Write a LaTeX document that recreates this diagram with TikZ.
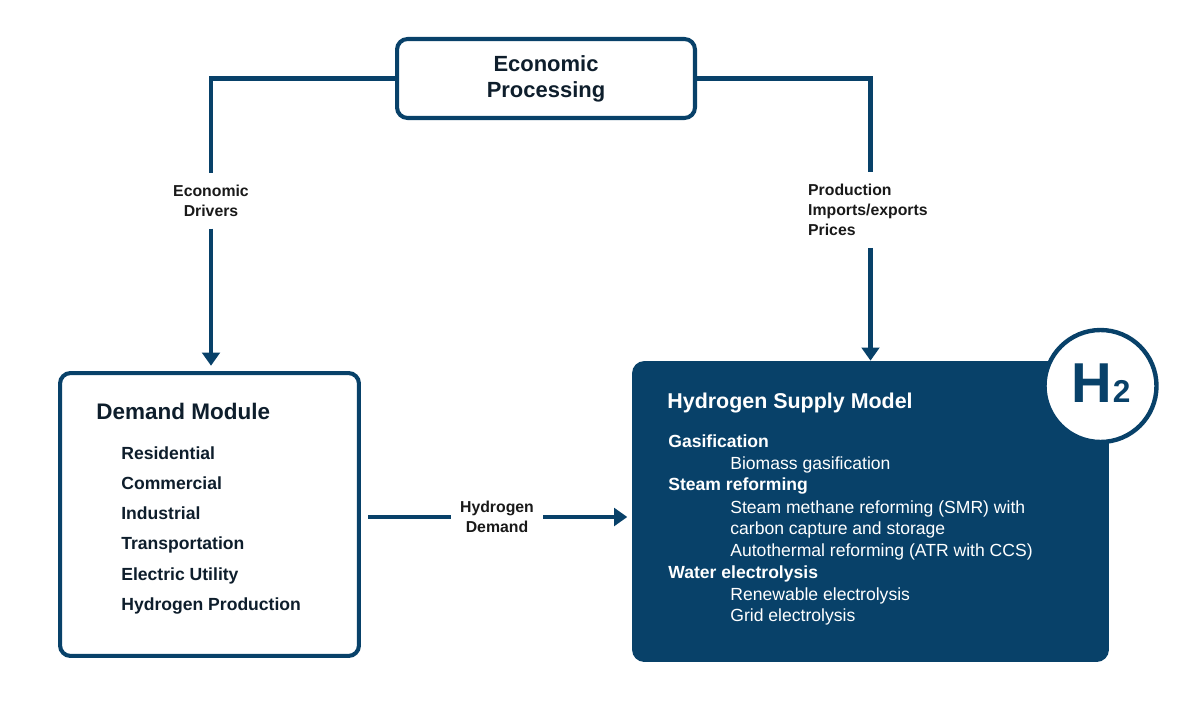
\documentclass[tikz,border=0pt]{standalone}
\usepackage{fontspec}
\setmainfont{Liberation Sans}
\usetikzlibrary{arrows.meta}
\usetikzlibrary{positioning}
\definecolor{hblue}{RGB}{8,65,105}
\definecolor{hdark}{RGB}{14,30,44}
\tikzset{
	>={Triangle[width=10pt,length=7.5pt]},
	modbox/.style={
		rectangle,
		rounded corners=6pt,
		draw=hblue, line width=2.3pt,
		fill=white,
		text=hdark},
	line/.style={draw=hblue, line width=2.6pt},
	flowlabel/.style={
		font=\fontsize{9}{11.5}\selectfont\bfseries,
		text=black!90,
		align=center,
		inner xsep=5pt, inner ysep=6.5pt},
	demitem/.style={anchor=base west, inner sep=0pt, text=hdark,
		font=\fontsize{10}{12}\selectfont\bfseries},
	supitem/.style={anchor=base west, inner sep=0pt, text=white,
		font=\fontsize{10}{12}\selectfont},
}

\begin{document}
\begin{tikzpicture}[x=0.02cm, y=-0.02cm]
	\useasboundingbox (0,0) rectangle (1200,716);
	% boxes
	\node[modbox, minimum width=5.96cm, minimum height=1.58cm, align=center,
		font=\fontsize{12.5}{14.7}\selectfont\bfseries] (econ) at (546,78.5) {Economic\\Processing};
	\node[modbox, minimum width=5.98cm, minimum height=5.66cm] (dem) at (209.5,514.5) {};
	\node[fill=hblue, rounded corners=7pt, minimum width=9.54cm, minimum height=6.02cm, inner sep=0pt] (sup) at (870.5,511.5) {};
	\node[circle, draw=hblue, line width=2.5pt, fill=white, minimum size=2.24cm, inner sep=0pt] (htwo) at (1100.5,386) {};
	\node[text=hblue, inner sep=0pt] (htext) at (1101,383)
		{\fontsize{32}{32}\selectfont\bfseries H\kern0.3pt\fontsize{18}{18}\selectfont 2};
	% demand module
	\node[demitem, font=\fontsize{12.8}{15}\selectfont\bfseries] (demtitle) at (96,419) {Demand Module};
	\foreach \t [count=\i] in {Residential, Commercial, Industrial, Transportation, Electric Utility, Hydrogen Production}
		\node[demitem] (dem\i) at (121,429+30.2*\i) {\t};
	% supply model
	\node[supitem, font=\fontsize{12.2}{14}\selectfont\bfseries] (suptitle) at (667,408) {Hydrogen Supply Model};
	\foreach \y/\dx/\f/\t [count=\i] in {441/0/\bfseries/Gasification, 463/62//Biomass gasification,
		484/0/\bfseries/Steam reforming, 507/62//Steam methane reforming (SMR) with,
		528/62//carbon capture and storage, 550/62//Autothermal reforming (ATR with CCS),
		572/0/\bfseries/Water electrolysis, 594/62//Renewable electrolysis, 615/62//Grid electrolysis}
		\node[supitem] (sup\i) at (668+\dx,\y+6) {\f\t};
	% flow labels
	\node[flowlabel] (drv) at (211,201) {Economic\\Drivers};
	\node[flowlabel, align=left, anchor=west] (prod) at (799,210) {Production\\Imports/exports\\Prices};
	\node[flowlabel] (hd) at (497,517) {Hydrogen\\Demand};
	% connectors
	\draw[line] (econ.west) -| (drv);
	\draw[line, ->, shorten >=3pt] (drv) -- (drv |- dem.north);
	\draw[line] (econ.east) -| (sup.north |- prod.north);
	\draw[line, ->] (sup.north |- prod.south) -- (sup.north);
	\draw[line, shorten <=4pt] (dem.east |- hd) -- (hd);
	\draw[line, ->, shorten >=2.5pt] (hd) -- (sup.west |- hd);
\end{tikzpicture}
\end{document}
